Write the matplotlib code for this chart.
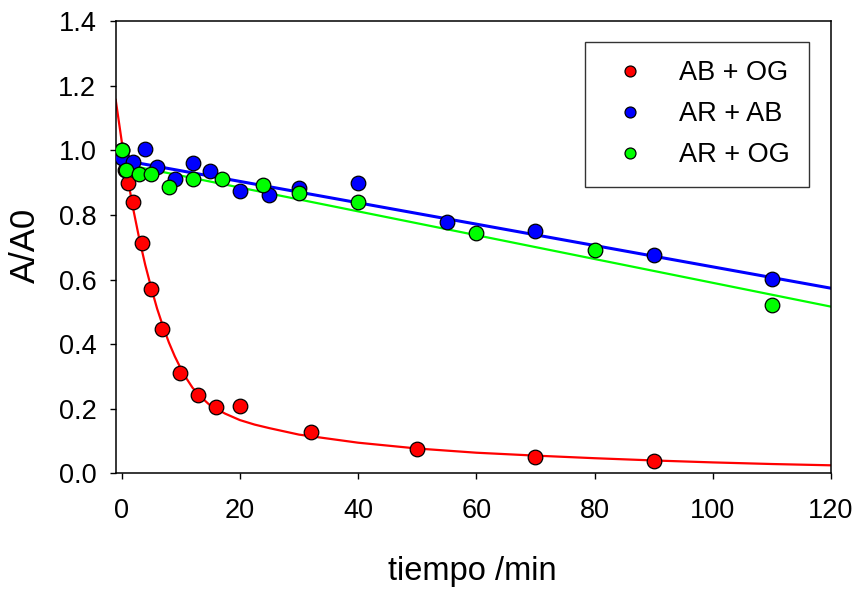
import numpy as np
import matplotlib
matplotlib.use("Agg")
import matplotlib.pyplot as plt

plt.rcParams['font.family'] = ['Liberation Sans', 'DejaVu Sans']

# measured points
t_ab_og = [0, 0.5, 1, 2, 3.4, 4.9, 6.9, 9.9, 12.9, 15.9, 20, 32, 50, 70, 90]
y_ab_og = [1.0, 0.94, 0.90, 0.84, 0.714, 0.571, 0.448, 0.31, 0.242, 0.204, 0.207, 0.129, 0.075, 0.050, 0.037]

t_ar_ab = [0, 2, 4, 6, 9, 12, 15, 20, 25, 30, 40, 55, 70, 90, 110]
y_ar_ab = [0.975, 0.965, 1.004, 0.947, 0.91, 0.962, 0.936, 0.875, 0.861, 0.884, 0.898, 0.778, 0.751, 0.676, 0.601]

t_ar_og = [0, 0.8, 3, 5, 8, 12, 17, 24, 30, 40, 60, 80, 110]
y_ar_og = [1.0, 0.939, 0.927, 0.926, 0.887, 0.911, 0.91, 0.893, 0.867, 0.839, 0.743, 0.692, 0.52]

# fitted curves
fit_red_t = [-1, 0, 1, 2, 3, 4, 5, 6, 7, 8, 9, 10, 11, 12, 13.5, 15, 17.5, 20, 22.5, 25, 30,
             40, 50, 60, 70, 80, 90, 100, 110, 120]
fit_red_y = [1.156, 1.03, 0.915, 0.815, 0.725, 0.645, 0.575, 0.51, 0.455, 0.405, 0.362, 0.325,
             0.293, 0.265, 0.235, 0.21, 0.185, 0.165, 0.151, 0.14, 0.12,
             0.095, 0.077, 0.064, 0.055, 0.047, 0.040, 0.034, 0.029, 0.025]
fit_blue_t = [-1, 120]
fit_blue_y = [0.973, 0.573]
fit_green_t = [-1, 120]
fit_green_y = [0.962, 0.516]

fig = plt.figure(figsize=(8.57, 5.91), dpi=100)
ax = fig.add_axes([0.135, 0.199, 0.8347, 0.7655])

ax.plot(fit_red_t, fit_red_y, '-', color='#ff0000', lw=1.6, zorder=2)
ax.plot(fit_blue_t, fit_blue_y, '-', color='#0000ff', lw=2.2, zorder=2)
ax.plot(fit_green_t, fit_green_y, '-', color='#00ff00', lw=1.6, zorder=2)

mk = dict(linestyle='none', marker='o', markersize=10.5, markeredgecolor='black',
          markeredgewidth=0.9, zorder=3)
ax.plot(t_ab_og, y_ab_og, color='#ff0000', markerfacecolor='#ff0000', label='AB + OG', **mk)
ax.plot(t_ar_ab, y_ar_ab, color='#0000ff', markerfacecolor='#0000ff', label='AR + AB', **mk)
ax.plot(t_ar_og, y_ar_og, color='#00ff00', markerfacecolor='#00ff00', label='AR + OG', **mk)

ax.set_xlim(-1, 120)
ax.set_ylim(0, 1.4)
ax.set_xticks(np.arange(0, 121, 20))
ax.set_yticks(np.arange(0, 1.41, 0.2))
ax.set_yticklabels(['%.1f' % v for v in np.arange(0, 1.41, 0.2)])
ax.tick_params(axis='both', direction='out', length=4, width=1, labelsize=19.5)
ax.tick_params(axis='x', pad=14)
ax.tick_params(axis='y', pad=10)
for s in ax.spines.values():
    s.set_linewidth(1.1)

ax.set_xlabel('tiempo /min', fontsize=23.5)
ax.set_ylabel('A/A0', fontsize=25)
ax.xaxis.set_label_coords(0.499, -0.183)
ax.yaxis.set_label_coords(-0.103, 0.505)

leg = ax.legend(loc='upper left', bbox_to_anchor=(0.656, 0.954), borderaxespad=0,
                fontsize=19.5, markerscale=0.75, frameon=True, fancybox=False,
                edgecolor='black', borderpad=0.685, handlelength=1.95, handletextpad=0.85,
                labelspacing=0.555)
leg.get_frame().set_linewidth(1.0)

fig.savefig('out.png', dpi=100)
